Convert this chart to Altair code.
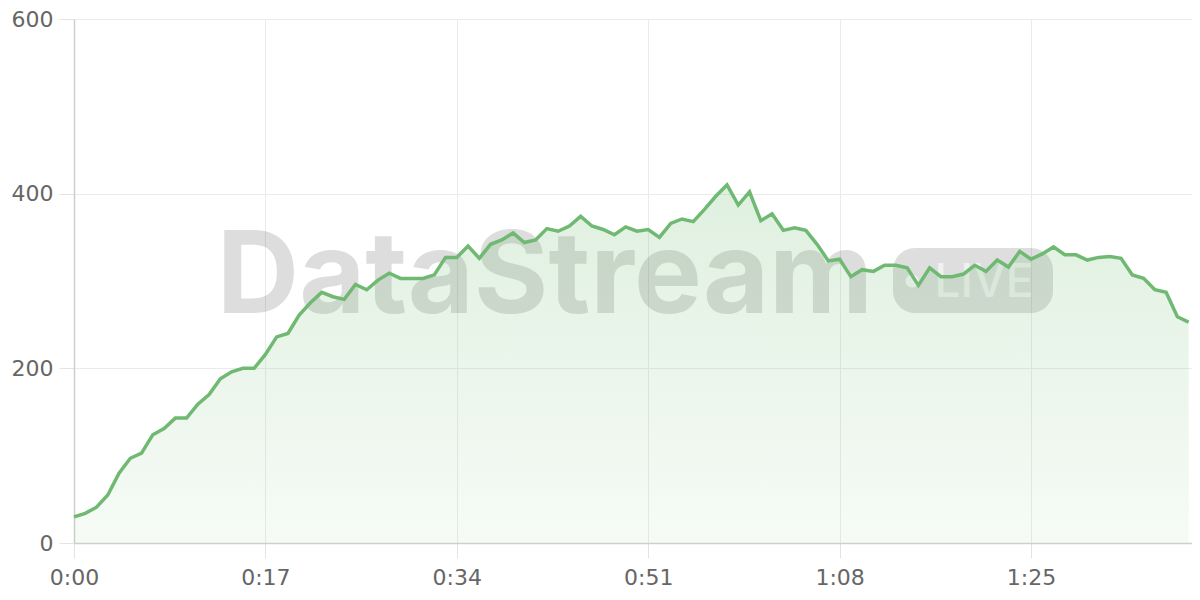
import altair as alt
import pandas as pd

seconds = list(range(100))
values = [30, 34, 41, 55, 80, 97, 103, 124, 131, 143,
          143, 159, 170, 188, 196, 200, 200, 216, 236, 240,
          261, 275, 287, 282, 279, 296, 290, 301, 309, 303,
          303, 303, 307, 327, 327, 340, 326, 342, 347, 355,
          344, 347, 360, 357, 363, 374, 363, 359, 353, 362,
          357, 359, 350, 366, 371, 368, 382, 397, 410, 387,
          402, 369, 377, 358, 361, 358, 342, 323, 325, 305,
          313, 311, 318, 318, 315, 295, 315, 305, 305, 308,
          318, 311, 324, 316, 334, 325, 331, 339, 330, 330,
          324, 327, 328, 326, 307, 303, 290, 287, 259, 253]
x_ticks = [0, 17, 34, 51, 68, 85]
y_ticks = [0, 200, 400, 600]
brand = ["DataStream"]
badge = ["LIVE"]

df = pd.DataFrame({"t": seconds, "v": values})
wm = pd.DataFrame({"label": brand})
bd = pd.DataFrame({"label": badge})

LINE = "#6fb972"
FONT = "DejaVu Sans"

x_enc = alt.X(
    "t:Q",
    scale=alt.Scale(domain=[0, 99.3], nice=False, zero=False),
    axis=alt.Axis(
        values=x_ticks,
        labelExpr="floor(datum.value/60) + ':' + (datum.value % 60 < 10 ? '0' : '') + (datum.value % 60)",
        title=None,
        grid=True,
        gridColor="#ebebeb",
        domainColor="#cfcfcf",
        domainWidth=1.5,
        tickColor="#e3e3e3",
        tickSize=15,
        labelPadding=9,
        labelFont=FONT,
        labelFontSize=22,
        labelColor="#666666",
        labelFlush=False,
    ),
)
y_enc = alt.Y(
    "v:Q",
    scale=alt.Scale(domain=[0, 600], nice=False),
    axis=alt.Axis(
        values=y_ticks,
        title=None,
        grid=True,
        gridColor="#ebebeb",
        domainColor="#cfcfcf",
        domainWidth=1.5,
        tickColor="#e3e3e3",
        tickSize=15,
        labelPadding=6,
        labelFont=FONT,
        labelFontSize=22,
        labelColor="#666666",
    ),
)

watermark = alt.Chart(wm).mark_text(
    font="Inter", fontWeight="bold", fontSize=114, color="#000000", opacity=0.13,
    align="center", baseline="alphabetic",
).encode(text="label:N", x=alt.value(471), y=alt.value(294))

badge_rect = alt.Chart(bd).mark_rect(
    color="#000000", opacity=0.13, cornerRadius=22,
).encode(x=alt.value(819), x2=alt.value(979), y=alt.value(229), y2=alt.value(294))

badge_dot = alt.Chart(bd).mark_circle(
    color="#ffffff", opacity=0.75, size=170,
).encode(x=alt.value(838), y=alt.value(262))

badge_text = alt.Chart(bd).mark_text(
    font="Inter", fontWeight=500, fontSize=46, color="#ffffff", opacity=0.6,
    align="center", baseline="alphabetic",
).encode(text="label:N", x=alt.value(910), y=alt.value(278))

base = alt.Chart(df)
area = base.mark_area(
    color=alt.Gradient(
        gradient="linear",
        stops=[
            alt.GradientStop(color="rgba(109,186,111,0.22)", offset=0),
            alt.GradientStop(color="rgba(109,186,111,0.06)", offset=1),
        ],
        x1=1, x2=1, y1=0, y2=1,
    )
).encode(x=x_enc, y=y_enc)

line = base.mark_line(color=LINE, strokeWidth=3.5).encode(x=x_enc, y=y_enc)

chart = alt.layer(watermark, badge_rect, badge_dot, badge_text, area, line).properties(
    width=1118,
    height=524,
    padding={"left": 66, "top": 11, "right": 0, "bottom": 48},
    autosize=alt.AutoSizeParams(type="none"),
).configure_view(stroke=None)

chart.save("out.html", embed_options={"renderer": "svg", "actions": False})
